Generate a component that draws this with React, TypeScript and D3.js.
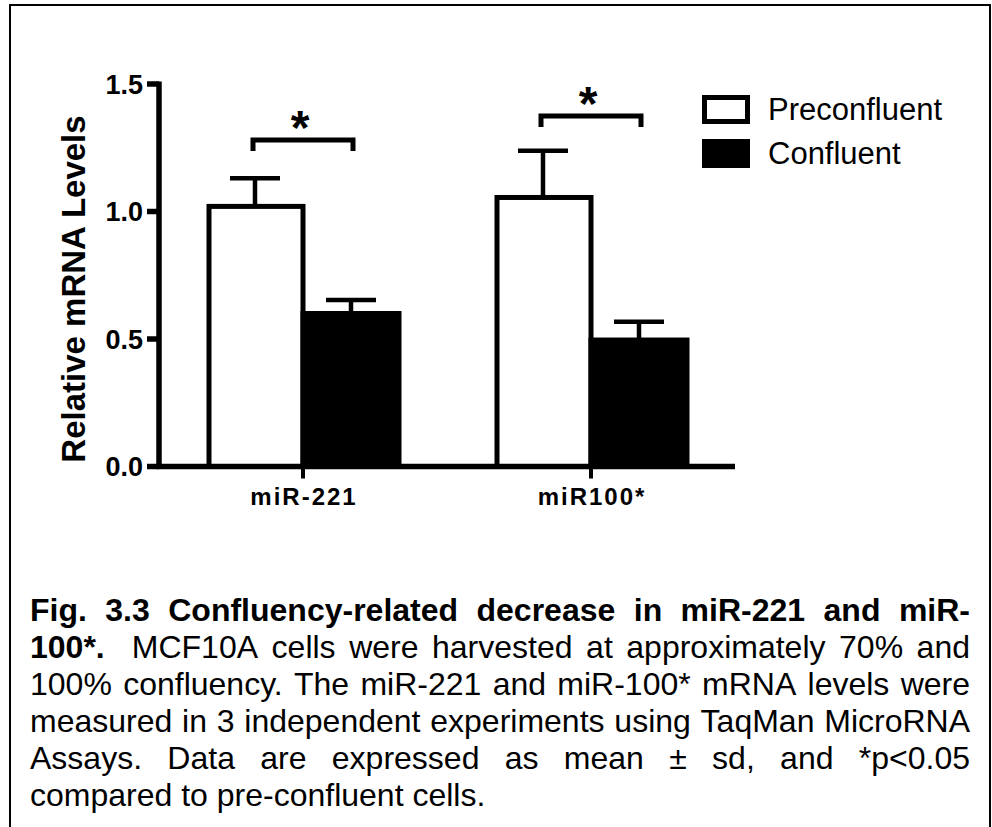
import React from "react";
import * as d3 from "d3";

const categories = ["miR-221", "miR100*"];
const series = ["Preconfluent", "Confluent"];
const preconfluentMean = [1.02, 1.055];
const preconfluentSd = [0.11, 0.183];
const confluentMean = [0.6, 0.496];
const confluentSd = [0.053, 0.072];
const yTicks = [0, 0.5, 1.0, 1.5];
const bracketLevels = [1.28, 1.375];

// caption lines, words starting with ** are bold
const captionLines = [
  "**Fig. **3.3 **Confluency-related **decrease **in **miR-221 **and **miR-",
  "**100*.  MCF10A cells were harvested at approximately 70% and",
  "100% confluency. The miR-221 and miR-100* mRNA levels were",
  "measured in 3 independent experiments using TaqMan MicroRNA",
  "Assays. Data are expressed as mean ± sd, and *p<0.05",
  "compared to pre-confluent cells.",
];

const FONT = "'Liberation Sans', Arial, sans-serif";

let ctx: CanvasRenderingContext2D | null = null;
function measure(text: string, bold: boolean, size: number) {
  if (!ctx) ctx = document.createElement("canvas").getContext("2d");
  ctx!.font = `${bold ? "bold " : ""}${size}px ${FONT}`;
  return ctx!.measureText(text).width;
}

const App = () => {
  const width = 992;
  const height = 827;

  const x = d3.scaleBand().domain(categories).range([159, 735]);
  const bw = x.bandwidth();
  const xs = d3.scaleBand().domain(series).range([0, (bw * 2) / 3]);
  const y = d3.scaleLinear().domain([0, 1.5]).range([466.5, 84]);

  const means = [preconfluentMean, confluentMean];
  const sds = [preconfluentSd, confluentSd];
  const fills = ["#fff", "#000"];

  const capSize = 32;
  const capLeft = 30;
  const capRight = 970;
  const captionEls: JSX.Element[] = [];
  captionLines.forEach((line, li) => {
    const words = line.split(" ").map((w) => {
      const bold = w.startsWith("**");
      const t = bold ? w.slice(2) : w;
      return { t, bold, w: measure(t, bold, capSize) };
    });
    const total = d3.sum(words, (d) => d.w);
    const justify = li < captionLines.length - 1;
    const gap = justify
      ? (capRight - capLeft - total) / (words.length - 1)
      : measure(" ", false, capSize);
    let cx = capLeft;
    const by = 621 + li * 37;
    words.forEach((wd, wi) => {
      if (wd.t)
        captionEls.push(
          <text
            key={`c${li}-${wi}`}
            x={cx}
            y={by}
            fontSize={capSize}
            fontWeight={wd.bold ? "bold" : "normal"}
          >
            {wd.t}
          </text>
        );
      cx += wd.w + gap;
    });
  });

  return (
    <svg
      width={width}
      height={height}
      style={{ position: "absolute", left: 0, top: 0, background: "#fff" }}
      fontFamily={FONT}
    >
      <rect x={0} y={0} width={width} height={height} fill="#fff" />
      <rect x={10} y={5} width={980} height={840} fill="none" stroke="#000" strokeWidth={2} />

      {/* bars */}
      {series.map((s, si) =>
        categories.map((c, ci) => {
          const bx = x(c)! + bw / 6 + xs(s)!;
          return (
            <rect
              key={`${s}-${c}`}
              x={bx + (si === 0 ? 2 : 0)}
              y={y(means[si][ci])}
              width={xs.bandwidth() - (si === 0 ? 2 : 0)}
              height={y(0) - y(means[si][ci])}
              fill={fills[si]}
              stroke="#000"
              strokeWidth={5}
            />
          );
        })
      )}

      {/* error bars */}
      {series.map((s, si) =>
        categories.map((c, ci) => {
          const cx = x(c)! + bw / 6 + xs(s)! + xs.bandwidth() / 2;
          const top = y(means[si][ci] + sds[si][ci]);
          return (
            <g key={`e${s}-${c}`} stroke="#000" strokeWidth={4.5}>
              <line x1={cx} x2={cx} y1={y(means[si][ci])} y2={top} />
              <line x1={cx - 25} x2={cx + 25} y1={top} y2={top} />
            </g>
          );
        })
      )}

      {/* axes */}
      <g stroke="#000" strokeWidth={5.5} fill="none">
        <line x1={159} x2={159} y1={y(1.5) - 2.5} y2={y(0) + 2.5} />
        <line x1={156.5} x2={735} y1={y(0)} y2={y(0)} />
        {yTicks.map((t) => (
          <line key={t} x1={147} x2={159} y1={y(t)} y2={y(t)} />
        ))}
        {categories.map((c) => (
          <line key={c} x1={x(c)! + bw / 2} x2={x(c)! + bw / 2} y1={y(0)} y2={y(0) + 12} strokeWidth={4} />
        ))}
      </g>
      {yTicks.map((t) => (
        <text
          key={t}
          x={143}
          y={y(t) + 9.5}
          textAnchor="end"
          fontSize={27}
          fontWeight="bold"
        >
          {d3.format(".1f")(t)}
        </text>
      ))}
      {categories.map((c) => (
        <text
          key={c}
          x={x(c)! + bw / 2 + 1}
          y={505}
          textAnchor="middle"
          fontSize={24}
          fontWeight="bold"
          letterSpacing={2}
        >
          {c}
        </text>
      ))}
      <text
        transform="translate(85,289) rotate(-90)"
        textAnchor="middle"
        fontSize={33}
        fontWeight="bold"
      >
        Relative mRNA Levels
      </text>

      {/* significance brackets */}
      {categories.map((c, ci) => {
        const cx = x(c)! + bw / 2;
        const by = y(bracketLevels[ci]);
        return (
          <g key={`b${c}`}>
            <path
              d={`M${cx - 50},${by + 11}V${by}H${cx + 50}V${by + 11}`}
              fill="none"
              stroke="#000"
              strokeWidth={5}
            />
            <text x={cx - 3} y={by + 4} textAnchor="middle" fontSize={48} fontWeight="bold">
              *
            </text>
          </g>
        );
      })}

      {/* legend */}
      {series.map((s, si) => (
        <g key={`l${s}`}>
          <rect
            x={704.5}
            y={97.5 + si * 44}
            width={43}
            height={24}
            fill={fills[si]}
            stroke="#000"
            strokeWidth={5}
          />
          <text x={768} y={120 + si * 44} fontSize={31}>
            {s}
          </text>
        </g>
      ))}

      {captionEls}
    </svg>
  );
};

export default App;
